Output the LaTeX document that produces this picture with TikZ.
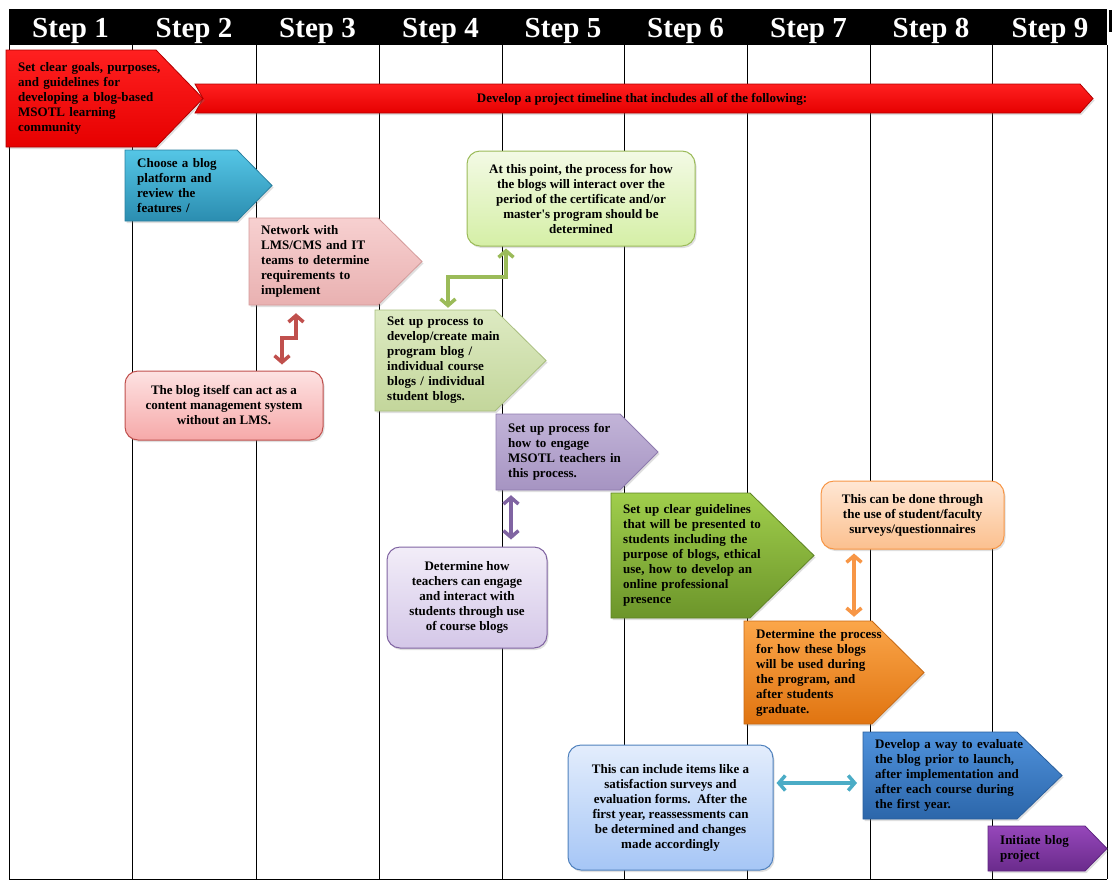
\documentclass[tikz,border=0pt]{standalone}
\usepackage{fontspec}
\setmainfont{Liberation Serif}
\usetikzlibrary{arrows.meta,shadows}
\pgfdeclarelayer{background}
\pgfsetlayers{background,main}

\definecolor{redtop}{HTML}{FF2020}
\definecolor{redbot}{HTML}{E60000}
\definecolor{reddraw}{HTML}{B00000}
\definecolor{cyantop}{HTML}{55C6E6}
\definecolor{cyanbot}{HTML}{2B8DB0}
\definecolor{cyandraw}{HTML}{2A7F9E}
\definecolor{pinktop}{HTML}{F7D0D0}
\definecolor{pinkbot}{HTML}{E9B1B1}
\definecolor{pinkdraw}{HTML}{D49A9A}
\definecolor{lgtop}{HTML}{DDEAC2}
\definecolor{lgbot}{HTML}{C3D69B}
\definecolor{lgdraw}{HTML}{A8BE7E}
\definecolor{purtop}{HTML}{C2B4D8}
\definecolor{purbot}{HTML}{A694C2}
\definecolor{purdraw}{HTML}{8E7BAE}
\definecolor{gtop}{HTML}{A0CE4C}
\definecolor{gbot}{HTML}{6C952A}
\definecolor{gdraw}{HTML}{5E8324}
\definecolor{otop}{HTML}{FBA64A}
\definecolor{obot}{HTML}{E07410}
\definecolor{odraw}{HTML}{C86A14}
\definecolor{btop}{HTML}{4F92DC}
\definecolor{bbot}{HTML}{2C66AA}
\definecolor{bdraw}{HTML}{295E9C}
\definecolor{vtop}{HTML}{9647BA}
\definecolor{vbot}{HTML}{6A2B8C}
\definecolor{vdraw}{HTML}{5E2680}
\definecolor{cgtop}{HTML}{F3FAE5}
\definecolor{cgbot}{HTML}{D5EFA6}
\definecolor{cptop}{HTML}{FDE2E2}
\definecolor{cpbot}{HTML}{F6A9A9}
\definecolor{cltop}{HTML}{F2EDF8}
\definecolor{clbot}{HTML}{D4C7E8}
\definecolor{cotop}{HTML}{FFE7D4}
\definecolor{cobot}{HTML}{FBC08F}
\definecolor{cbtop}{HTML}{E3EDFC}
\definecolor{cbbot}{HTML}{A6C6F6}
\definecolor{cbdraw}{HTML}{4F81BD}
\definecolor{redc}{HTML}{C0504D}
\definecolor{greenc}{HTML}{9BBB59}
\definecolor{purc}{HTML}{8064A2}
\definecolor{orc}{HTML}{F79646}
\definecolor{tealc}{HTML}{4BACC6}

\tikzset{
  txt/.style={font=\fontsize{13}{15}\selectfont\bfseries, text=black},
  pentbox/.style={txt, anchor=west, inner xsep=12pt, inner ysep=0pt, align=left},
  notebox/.style={txt, rounded corners=13pt, align=center, inner sep=0pt, line width=1pt, shad},
  shad/.style={drop shadow={shadow xshift=1.5pt,shadow yshift=-2pt,opacity=0.25}},
  conn/.style={line width=3.5pt, {Straight Barb[length=6.5pt,width=15pt]}-{Straight Barb[length=6.5pt,width=15pt]}},
  steplabel/.style={font=\fontsize{29}{32}\selectfont\bfseries, text=white, anchor=base},
  gridln/.style={line width=1pt, draw=black},
  redsty/.style={top color=redtop, bottom color=redbot, draw=reddraw, line width=0.8pt},
  cyansty/.style={top color=cyantop, bottom color=cyanbot, draw=cyandraw, line width=0.8pt},
  pinksty/.style={top color=pinktop, bottom color=pinkbot, draw=pinkdraw, line width=0.8pt},
  lgsty/.style={top color=lgtop, bottom color=lgbot, draw=lgdraw, line width=0.8pt},
  pursty/.style={top color=purtop, bottom color=purbot, draw=purdraw, line width=0.8pt},
  gsty/.style={top color=gtop, bottom color=gbot, draw=gdraw, line width=0.8pt},
  osty/.style={top color=otop, bottom color=obot, draw=odraw, line width=0.8pt},
  bsty/.style={top color=btop, bottom color=bbot, draw=bdraw, line width=0.8pt},
  vsty/.style={top color=vtop, bottom color=vbot, draw=vdraw, line width=0.8pt},
}

% name, style, x1, y1, xbody, xtip, y2, text
\newcommand\pentarrow[8]{%
  \begin{pgfonlayer}{background}
    \path[shad,#2] (#3,#4) -- (#5,#4) -- (#6,{(#4+#7)/2}) -- (#5,#7) -- (#3,#7) -- cycle;
  \end{pgfonlayer}
  \node[pentbox, text width={#6-#3-12}, minimum height={#7-#4}] (#1) at (#3,{(#4+#7)/2}) {#8};
}

\begin{document}
\begin{tikzpicture}[x=1pt,y=-1pt]
\useasboundingbox (0,0) rectangle (1116,889);

% table
\begin{pgfonlayer}{background}
  \foreach \x in {9,132,256,379,502,624,747,870,992,1107}
    \draw[gridln] (\x,45) -- (\x,879);
  \draw[gridln] (9,879) -- (1107,879);
  \fill[black] (9,9) rectangle (1107,45);
  \fill[black] (1109,10) rectangle (1111.5,32);
\end{pgfonlayer}
\foreach \i/\x in {1/70.5,2/194,3/317.5,4/440.5,5/563,6/685.5,7/808.5,8/931,9/1050}
  \node[steplabel] (step\i) at (\x,37) {Step \i};

% long timeline arrow
\begin{pgfonlayer}{background}
  \path[shad,redsty] (195,84) -- (1080,84) -- (1093,98.5) -- (1080,113) -- (195,113) -- (203,98.5) -- cycle;
\end{pgfonlayer}
\node[txt] (timeline) at (642,99) {Develop a project timeline that includes all of the following:};

\pentarrow{goals}{redsty}{6}{50}{156}{203}{147}{Set clear goals, purposes,\\and guidelines for\\developing a blog-based\\MSOTL learning\\community}
\pentarrow{platform}{cyansty}{125}{150}{237}{272}{221}{Choose a blog\\platform and\\review the\\features /}
\pentarrow{network}{pinksty}{249}{218}{378}{422}{305}{Network with\\LMS/CMS and IT\\teams to determine\\requirements to\\implement}
\pentarrow{setup}{lgsty}{375}{310}{495}{546}{411}{Set up process to\\develop/create main\\program blog /\\individual course\\blogs / individual\\student blogs.}
\pentarrow{engage}{pursty}{496}{414}{620}{658}{490}{Set up process for\\how to engage\\MSOTL teachers in\\this process.}
\pentarrow{guide}{gsty}{611}{493}{750}{814}{618}{Set up clear guidelines\\that will be presented to\\students including the\\purpose of blogs, ethical\\use, how to develop an\\online professional\\presence}
\pentarrow{use}{osty}{744}{621}{872}{924}{724}{Determine the process\\for how these blogs\\will be used during\\the program, and\\after students\\graduate.}
\pentarrow{evaluate}{bsty}{863}{732}{1017}{1062}{819}{Develop a way to evaluate\\the blog prior to launch,\\after implementation and\\after each course during\\the first year.}
\pentarrow{initiate}{vsty}{988}{826}{1085}{1107}{871}{Initiate blog\\project}

% callouts
\node[notebox, minimum width=228, minimum height=95, top color=cgtop, bottom color=cgbot, draw=greenc] (point) at (581,198.5)
  {At this point, the process for how\\the blogs will interact over the\\period of the certificate and/or\\master\textquotesingle s program should be\\determined};
\node[notebox, minimum width=198, minimum height=69, top color=cptop, bottom color=cpbot, draw=redc] (cms) at (224,405.5)
  {The blog itself can act as a\\content management system\\without an LMS.};
\node[notebox, minimum width=160, minimum height=101, top color=cltop, bottom color=clbot, draw=purc] (teach) at (467,597.5)
  {Determine how\\teachers can engage\\and interact with\\students through use\\of course blogs};
\node[notebox, minimum width=183, minimum height=68, top color=cotop, bottom color=cobot, draw=orc] (survey) at (912.5,515)
  {This can be done through\\the use of student/faculty\\surveys/questionnaires};
\node[notebox, minimum width=205, minimum height=125, top color=cbtop, bottom color=cbbot, draw=cbdraw] (items) at (670.5,807.5)
  {This can include items like a\\satisfaction surveys and\\evaluation forms.\ \ After the\\first year, reassessments can\\be determined and changes\\made accordingly};

% connectors
\draw[conn, draw=redc] ([xshift=47pt,yshift=-8pt]network.south west) -- ++(0,25) -| ([xshift=58pt,yshift=6pt]cms.north);
\draw[conn, draw=greenc] ([xshift=73pt,yshift=2pt]setup.north west) -- ++(0,-31) -| ([xshift=-75pt,yshift=-2pt]point.south);
\draw[conn, draw=purc] ([xshift=15pt,yshift=-5pt]engage.south west) -- ([xshift=44pt,yshift=7pt]teach.north);
\draw[conn, draw=orc] ([xshift=-58.5pt,yshift=-4pt]survey.south) -- ([xshift=110pt,yshift=4pt]use.north west);
\draw[conn, draw=tealc] ([xshift=3pt,yshift=24.5pt]items.east) -- ([xshift=-6pt,yshift=-7.5pt]evaluate.west);
\end{tikzpicture}
\end{document}
